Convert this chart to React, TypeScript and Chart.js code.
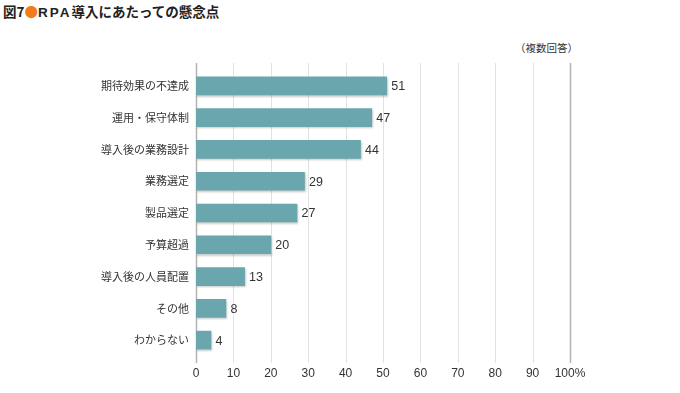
import React, { useEffect, useRef } from "react";
import { Chart, registerables } from "chart.js";

Chart.register(...registerables);

const categories = [
  "期待効果の不達成",
  "運用・保守体制",
  "導入後の業務設計",
  "業務選定",
  "製品選定",
  "予算超過",
  "導入後の人員配置",
  "その他",
  "わからない",
];
const values = [51, 47, 44, 29, 27, 20, 13, 8, 4];
const axisMin = 0;
const axisMax = 100;
const axisStep = 10;
const titleBefore = "図7";
const titleMark = "●";
const titleLatin = "RPA";
const titleAfter = "導入にあたっての懸念点";
const noteText = "（複数回答）";

const FONT = "'Liberation Sans', Arial, 'Noto Sans CJK JP', sans-serif";
const CJK = "'Noto Sans CJK JP', sans-serif";

const gridPlugin = {
  id: "customGrid",
  beforeDatasetsDraw(chart: any) {
    const { ctx, chartArea, scales } = chart;
    const x = scales.x;
    ctx.save();
    x.ticks.forEach((t: any) => {
      const edge = t.value === axisMin || t.value === axisMax;
      const px = Math.round(x.getPixelForValue(t.value)) + 0.5;
      ctx.strokeStyle = edge ? "#b3b3b3" : "#e2e2e2";
      ctx.lineWidth = edge ? 1.5 : 1;
      ctx.beginPath();
      ctx.moveTo(px, chartArea.top - 7);
      ctx.lineTo(px, chartArea.bottom + 7);
      ctx.stroke();
    });
    ctx.restore();
  },
};

const shadowPlugin = {
  id: "barShadow",
  beforeDatasetDraw(chart: any) {
    const ctx = chart.ctx;
    ctx.save();
    ctx.shadowColor = "rgba(0,0,0,0.22)";
    ctx.shadowOffsetX = 1;
    ctx.shadowOffsetY = 1.5;
    ctx.shadowBlur = 2;
  },
  afterDatasetDraw(chart: any) {
    chart.ctx.restore();
  },
};

const valueLabelPlugin = {
  id: "valueLabels",
  afterDatasetsDraw(chart: any) {
    const { ctx } = chart;
    const meta = chart.getDatasetMeta(0);
    ctx.save();
    ctx.font = `12.5px ${FONT}`;
    ctx.fillStyle = "#333333";
    ctx.textAlign = "left";
    ctx.textBaseline = "middle";
    meta.data.forEach((bar: any, i: number) => {
      ctx.fillText(String(values[i]), bar.x + 4.5, bar.y + 1);
    });
    ctx.restore();
  },
};

export default function App() {
  const canvasRef = useRef<HTMLCanvasElement | null>(null);

  useEffect(() => {
    if (!canvasRef.current) return;
    const chart = new Chart(canvasRef.current, {
      type: "bar",
      data: {
        labels: categories,
        datasets: [
          {
            data: values,
            backgroundColor: "#69a6ad",
            borderWidth: 0,
            barThickness: 18,
          },
        ],
      },
      options: {
        indexAxis: "y",
        responsive: false,
        animation: false,
        devicePixelRatio: 1,
        layout: { padding: { top: 70, right: 110, bottom: 0, left: 0 } },
        plugins: {
          legend: { display: false },
          tooltip: { enabled: false },
          title: { display: false },
        },
        scales: {
          x: {
            type: "linear",
            min: axisMin,
            max: axisMax,
            grid: { display: false, drawTicks: false },
            border: { display: false },
            ticks: {
              stepSize: axisStep,
              padding: 10,
              color: "#333333",
              font: { size: 12, family: FONT },
              callback: (v: any) => (v === axisMax ? `${v}%` : `${v}`),
            },
            afterFit: (scale: any) => {
              scale.height = 37;
            },
          },
          y: {
            grid: { display: false, drawTicks: false },
            border: { display: false },
            ticks: {
              padding: 7,
              color: "#333333",
              font: { size: 11, family: CJK },
            },
            afterFit: (scale: any) => {
              scale.width = 196;
            },
          },
        },
      },
      plugins: [gridPlugin, shadowPlugin, valueLabelPlugin],
    } as any);
    return () => chart.destroy();
  }, []);

  return (
    <div
      style={{
        position: "absolute",
        left: 0,
        top: 0,
        width: 680,
        height: 393,
        background: "#ffffff",
        overflow: "hidden",
      }}
    >
      <div
        style={{
          position: "absolute",
          left: 3,
          top: 3,
          fontFamily: CJK,
          fontWeight: "bold",
          fontSize: 13.5,
          lineHeight: "17px",
          color: "#222222",
          whiteSpace: "nowrap",
        }}
      >
        {titleBefore}
        <span style={{ color: "#f07c1c" }}>{titleMark}</span>
        <span style={{ letterSpacing: "2px", fontFamily: FONT }}>{titleLatin}</span>
        {titleAfter}
      </div>
      <div
        style={{
          position: "absolute",
          left: 515,
          top: 41,
          fontFamily: CJK,
          fontSize: 10.5,
          lineHeight: "14px",
          color: "#333333",
          whiteSpace: "nowrap",
        }}
      >
        {noteText}
      </div>
      <canvas
        ref={canvasRef}
        width={680}
        height={393}
        style={{ position: "absolute", left: 0, top: 0, width: 680, height: 393 }}
      />
    </div>
  );
}
